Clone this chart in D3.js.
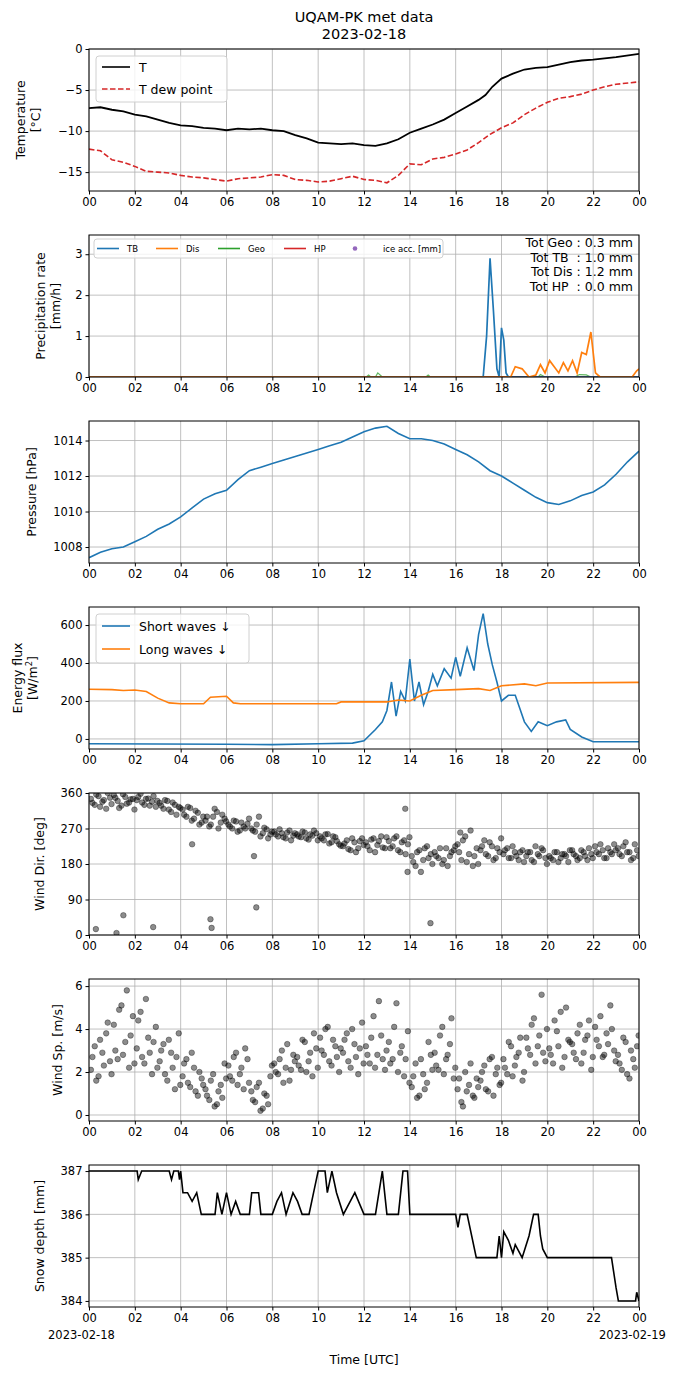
<!DOCTYPE html>
<html><head><meta charset="utf-8">
<script src="https://cdn.jsdelivr.net/npm/d3@7"></script>
<style>body{margin:0;background:#fff}svg{font-family:"DejaVu Sans",sans-serif}</style>
</head><body><svg id="c" width="690" height="1377"></svg>
<script>
// ---- data (hours UTC, 2023-02-18) ----
const hourTicks=[0,2,4,6,8,10,12,14,16,18,20,22,24];
const hourLabels=["00","02","04","06","08","10","12","14","16","18","20","22","00"];
const tempT=[[0,-7.2],[0.5,-7.1],[1,-7.4],[1.5,-7.6],[2,-8.0],[2.5,-8.2],[3,-8.6],[3.5,-9.0],[4,-9.3],[4.5,-9.4],[5,-9.6],[5.5,-9.7],[6,-9.9],[6.5,-9.7],[7,-9.8],[7.5,-9.7],[8,-9.9],[8.5,-10.0],[9,-10.5],[9.5,-10.9],[10,-11.4],[10.5,-11.5],[11,-11.6],[11.5,-11.5],[12,-11.7],[12.5,-11.8],[13,-11.5],[13.5,-11.0],[14,-10.2],[14.5,-9.7],[15,-9.2],[15.5,-8.6],[16,-7.8],[16.5,-7.0],[17,-6.2],[17.3,-5.6],[17.6,-4.6],[18,-3.6],[18.5,-3.0],[19,-2.5],[19.5,-2.3],[20,-2.2],[20.5,-1.9],[21,-1.6],[21.5,-1.4],[22,-1.3],[23,-1.0],[24,-0.6]];
const tempTd=[[0,-12.2],[0.5,-12.4],[1,-13.5],[1.5,-13.8],[2,-14.3],[2.5,-14.9],[3,-15.0],[3.5,-15.1],[4,-15.4],[4.5,-15.6],[5,-15.7],[5.5,-15.9],[6,-16.1],[6.5,-15.8],[7,-15.7],[7.5,-15.6],[8,-15.3],[8.5,-15.4],[9,-15.9],[9.5,-16.0],[10,-16.2],[10.5,-16.1],[11,-15.8],[11.5,-15.5],[12,-15.9],[12.5,-16.0],[13,-16.3],[13.5,-15.4],[14,-14.0],[14.5,-14.1],[15,-13.4],[15.5,-13.2],[16,-12.8],[16.5,-12.3],[17,-11.4],[17.5,-10.4],[18,-9.6],[18.5,-9.0],[19,-8.0],[19.5,-7.2],[20,-6.5],[20.5,-6.0],[21,-5.8],[21.5,-5.5],[22,-5.0],[22.5,-4.6],[23,-4.3],[24,-4.0]];
const precipTB=[[0,0],[17.2,0],[17.35,1.0],[17.5,2.9],[17.65,1.6],[17.8,0.2],[17.9,0],[18.0,1.2],[18.1,0.9],[18.2,0.1],[18.3,0],[24,0]];
const precipDis=[[0,0],[18.4,0],[18.6,0.25],[18.9,0.2],[19.2,0],[19.5,0.05],[19.7,0.3],[19.9,0.1],[20.1,0.4],[20.3,0.25],[20.5,0.1],[20.7,0.35],[20.9,0.15],[21.1,0.4],[21.3,0.1],[21.5,0.6],[21.7,0.55],[21.9,1.1],[22.1,0.1],[22.3,0],[23.7,0],[23.9,0.15],[24,0.2]];
const precipGeo=[[0,0],[12.1,0],[12.2,0.05],[12.3,0],[12.5,0],[12.6,0.1],[12.8,0],[14.7,0],[14.8,0.05],[14.9,0],[19.6,0],[19.7,0.06],[19.9,0],[21.2,0],[21.4,0.06],[21.7,0.05],[21.9,0],[24,0]];
const precipHP=[[0,0],[24,0]];
const precipTotals=["Tot Geo : 0.3 mm","Tot TB  : 1.0 mm","Tot Dis : 1.2 mm","Tot HP  : 0.0 mm"];
const pressure=[[0,1007.4],[0.5,1007.7],[1,1007.9],[1.5,1008.0],[2,1008.3],[2.5,1008.6],[3,1009.0],[3.5,1009.3],[4,1009.7],[4.5,1010.2],[5,1010.7],[5.5,1011.0],[6,1011.2],[6.5,1011.8],[7,1012.3],[7.5,1012.5],[8,1012.7],[8.5,1012.9],[9,1013.1],[9.5,1013.3],[10,1013.5],[10.5,1013.7],[11,1013.9],[11.5,1014.2],[12,1014.5],[12.5,1014.7],[13,1014.8],[13.5,1014.4],[14,1014.1],[14.5,1014.1],[15,1014.0],[15.5,1013.8],[16,1013.5],[16.5,1013.2],[17,1012.8],[17.5,1012.3],[18,1012.0],[18.5,1011.6],[19,1011.2],[19.5,1010.8],[20,1010.5],[20.5,1010.4],[21,1010.6],[21.5,1010.9],[22,1011.1],[22.5,1011.5],[23,1012.1],[23.5,1012.8],[24,1013.4]];
const swDown=[[0,-25],[6,-28],[8,-30],[10,-25],[11.5,-22],[12,-10],[12.5,50],[12.8,90],[13,150],[13.2,300],[13.4,120],[13.6,250],[13.8,200],[14,420],[14.2,200],[14.4,300],[14.6,180],[14.8,250],[15,340],[15.2,280],[15.5,370],[15.8,320],[16,430],[16.2,330],[16.5,480],[16.8,360],[17,550],[17.2,660],[17.4,500],[17.6,390],[17.8,300],[18,200],[18.3,230],[18.6,230],[18.8,160],[19,90],[19.3,40],[19.6,90],[19.8,80],[20,70],[20.4,90],[20.8,100],[21,50],[21.5,10],[22,-15],[24,-15]];
const lwDown=[[0,262],[1,260],[1.5,255],[2,258],[2.5,250],[3,215],[3.5,190],[4,185],[5,185],[5.3,220],[6,225],[6.3,190],[6.6,185],[10.8,185],[11,195],[13,195],[13.5,205],[14,200],[14.5,230],[15,255],[16,260],[17,265],[17.5,255],[18,280],[19,290],[19.5,280],[20,295],[24,298]];
const windDirA=[345,330,352,338,320,348,355,340,328,350,336,345,342,358,330,346,338,325,335,320,340,312,330,325,318,300,322,295,310,285,290,275,300,312,285,295,280,270,288,265,275,282,270,262,300,258,268,255,262,250,258,245,265,252,255,248,260,242,252,258,250,240,256,235,248,230,225,240,215,235,220,245,235,215,245,228,250,220,238,225,250,210,240,230,200,175,215,190,225,205,210,195,180,220,200,215,230,190,250,205,175,220,215,240,200,225,195,210,205,220,195,210,190,215,200,210,185,205,220,195,200,190,210,195,205,185,215,200,195,210,190,205,225,205,215,195,210,230,220,200,235,210,195,215];
const windDirB=[335,356,325,342,360,332,348,322,357,333,344,318,350,336,345,328,352,340,328,342,318,336,305,322,305,325,290,315,280,300,300,280,320,270,305,288,275,290,262,285,270,295,265,280,250,272,245,262,255,268,248,260,240,258,250,262,245,255,265,240,245,255,232,250,238,226,232,218,245,210,238,228,225,242,210,238,222,248,220,245,215,235,205,248,185,210,160,220,195,180,200,220,190,175,210,225,210,240,185,265,200,180,225,205,235,190,220,245,215,195,225,200,210,185,210,190,225,200,215,180,195,210,185,205,200,215,205,190,215,200,220,195,210,230,195,220,205,215,205,225,210,190,230,200];
const windDirOut=[[0.3,15],[1.2,5],[1.5,50],[2.8,20],[5.3,40],[5.35,18],[7.3,70],[14.9,30],[4.5,230],[7.2,200],[13.8,320],[13.9,160],[16.2,260]];
const windSpA=[2.1,3.2,1.8,2.9,3.8,2.5,4.2,2.6,5.1,3.4,2.2,4.6,3.1,4.8,2.4,3.6,1.9,4.1,2.5,3.3,1.6,2.9,1.2,3.8,1.8,2.6,1.3,2.2,0.9,1.7,1.2,0.7,1.9,0.5,1.4,2.4,2.3,1.6,2.9,1.9,1.2,2.6,1.1,0.6,1.5,0.3,0.9,1.8,2.4,1.9,3.0,2.2,1.6,2.8,2.7,2.1,3.4,2.5,1.8,3.1,3.6,2.8,4.1,2.3,3.2,2.0,2.9,3.8,2.2,3.3,1.9,4.3,3.2,2.4,4.6,2.8,3.7,2.1,3.4,2.6,5.2,2.9,1.8,3.9,1.3,2.4,0.9,1.9,1.5,2.8,2.9,2.1,4.1,2.6,3.3,1.7,1.2,0.6,2.0,1.4,0.9,1.7,1.6,2.3,1.1,2.7,1.9,1.4,2.6,1.9,3.2,2.3,2.9,1.6,3.6,2.8,4.5,3.2,5.6,2.5,3.1,2.4,3.9,4.8,2.7,3.5,3.3,2.6,4.2,2.9,3.7,2.1,4.1,3.2,2.7,3.8,5.1,3.0,2.8,2.1,3.4,1.7,2.6,3.2];
const windSpB=[2.7,1.6,3.5,2.3,4.3,1.9,3.0,4.9,2.8,5.8,3.7,2.4,4.4,2.7,5.4,2.9,3.4,2.2,3.0,1.9,3.5,2.2,2.7,1.4,2.4,1.5,2.9,1.1,2.0,1.4,0.9,1.6,0.4,1.1,0.8,1.7,1.8,2.7,1.4,2.2,3.1,1.5,0.7,1.3,0.2,1.0,0.5,2.3,2.0,2.6,1.5,3.3,2.1,2.5,2.3,3.5,2.0,2.9,3.8,2.2,3.0,4.0,2.5,3.5,2.7,3.1,3.5,2.5,4.0,2.7,3.1,2.4,2.8,3.6,2.2,5.3,2.6,3.0,2.4,4.1,2.0,3.2,2.6,1.5,1.8,0.8,2.6,1.2,3.4,2.1,2.3,3.7,1.9,2.8,4.5,2.2,1.7,0.4,1.1,2.4,0.8,1.3,2.0,1.2,2.6,0.9,2.2,1.5,2.2,3.4,1.8,2.7,3.6,2.0,3.1,4.2,2.4,3.7,2.9,4.0,2.8,4.4,3.2,2.2,5.0,3.4,2.9,3.8,2.4,3.5,4.4,2.7,3.5,4.6,2.8,3.3,4.0,2.5,2.4,3.6,1.9,3.0,2.2,3.7];
const snowDepth=[[0,387],[2.1,387],[2.15,386.8],[2.3,387],[3.5,387],[3.6,386.8],[3.7,387],[3.9,387],[3.95,386.8],[4.0,387],[4.1,386.5],[4.3,386.5],[4.5,386.3],[4.7,386.5],[4.9,386],[5.5,386],[5.6,386.5],[5.8,386],[6.0,386.5],[6.2,386],[6.4,386.3],[6.6,386],[7.0,386],[7.1,386.5],[7.4,386.5],[7.5,386],[8.0,386],[8.2,386.3],[8.4,386.5],[8.6,386],[8.9,386.5],[9.1,386.3],[9.3,386],[9.6,386],[9.8,386.5],[10.0,387],[10.3,387],[10.4,386.5],[10.6,387],[10.8,386.5],[11.1,386],[11.6,386.5],[12.0,386],[12.5,386],[12.8,387],[13.0,386],[13.5,386],[13.7,387],[13.9,387],[14.0,386],[16.0,386],[16.1,385.7],[16.2,386],[16.5,386],[16.9,385],[17.8,385],[17.9,385.5],[18.0,385],[18.1,385.6],[18.3,385.4],[18.5,385.1],[18.6,385.3],[18.9,385],[19.2,385.5],[19.4,386],[19.6,386],[19.7,385.5],[19.8,385.2],[20.0,385],[22.8,385],[23.0,384.3],[23.1,384],[23.85,384],[23.9,384.2],[24,384]];

// ---- layout ----
const svg=d3.select("#c");
const L=89,R=639,H=142;
const x=d3.scaleLinear().domain([0,24]).range([L,R]);
const tops=[49,235,421,607,793,979,1165];
svg.append("text").attr("x",364).attr("y",22).attr("text-anchor","middle").attr("font-size",14.5).text("UQAM-PK met data");
svg.append("text").attr("x",364).attr("y",39).attr("text-anchor","middle").attr("font-size",14.5).text("2023-02-18");
const fmt=d=>String(d).replace("-","\u2212");

function panel(i,dom,ticks,labels,labX){
  const t=tops[i];
  const y=d3.scaleLinear().domain(dom).range([t+H,t]);
  const g=svg.append("g");
  g.selectAll(".gx").data(hourTicks).join("line").attr("x1",d=>x(d)).attr("x2",d=>x(d)).attr("y1",t).attr("y2",t+H).attr("stroke","#b0b0b0").attr("stroke-width",0.8);
  g.selectAll(".gy").data(ticks).join("line").attr("x1",L).attr("x2",R).attr("y1",d=>y(d)).attr("y2",d=>y(d)).attr("stroke","#b0b0b0").attr("stroke-width",0.8);
  const ax=g.append("g").attr("transform",`translate(0,${t+H})`).call(d3.axisBottom(x).tickValues(hourTicks).tickFormat((d,j)=>hourLabels[j]).tickSizeOuter(0).tickSize(3.5).tickPadding(3));
  const ay=g.append("g").attr("transform",`translate(${L},0)`).call(d3.axisLeft(y).tickValues(ticks).tickFormat(fmt).tickSizeOuter(0).tickSize(3.5).tickPadding(3));
  [ax,ay].forEach(a=>{a.select(".domain").remove();a.selectAll("text").attr("font-size",11.5).attr("font-family","DejaVu Sans").attr("fill","#000");a.selectAll("line").attr("stroke","#000");});
  const lab=g.append("text").attr("transform",`translate(${labX},${t+H/2}) rotate(-90)`).attr("text-anchor","middle").attr("font-size",12.5);
  labels.forEach((s,j)=>{const ts=lab.append("tspan").attr("x",0).attr("dy",j?15:0);
    if(s.includes("^2")){ts.text(s.split("^2")[0]);lab.append("tspan").attr("font-size",8.5).attr("dy",-5).text("2");lab.append("tspan").attr("dy",5).text(s.split("^2")[1]);} else ts.text(s);});
  const clipId="clip"+i;
  svg.append("clipPath").attr("id",clipId).append("rect").attr("x",L).attr("y",t).attr("width",R-L).attr("height",H);
  const plot=svg.append("g").attr("clip-path",`url(#${clipId})`);
  const frame=()=>svg.append("rect").attr("x",L).attr("y",t).attr("width",R-L).attr("height",H).attr("fill","none").attr("stroke","#000").attr("stroke-width",1);
  return {y,plot,frame,t};
}
const line=(y)=>d3.line().x(d=>x(d[0])).y(d=>y(d[1]));
function legend(px,py,w,h,items,fs,lw){
  const g=svg.append("g");
  g.append("rect").attr("x",px).attr("y",py).attr("width",w).attr("height",h).attr("rx",3).attr("fill","#fff").attr("fill-opacity",0.8).attr("stroke","#d0d0d0");
  items.forEach(it=>{
    if(it.dot) g.append("circle").attr("cx",it.x+it.len/2).attr("cy",it.y).attr("r",2.3).attr("fill",it.c);
    else g.append("line").attr("x1",it.x).attr("x2",it.x+it.len).attr("y1",it.y).attr("y2",it.y).attr("stroke",it.c).attr("stroke-width",lw).attr("stroke-dasharray",it.dash||null);
    g.append("text").attr("x",it.x+it.len+it.gap).attr("y",it.y+fs*0.36).attr("font-size",fs).text(it.t);
  });
}
const dotStyle=s=>s.attr("r",2.8).attr("fill","#000").attr("fill-opacity",0.45).attr("stroke","#000").attr("stroke-opacity",0.55).attr("stroke-width",0.6);

// 1 temperature
let p=panel(0,[-17.3,0],[0,-5,-10,-15],["Temperature","[°C]"],25);
p.plot.append("path").attr("d",line(p.y)(tempTd)).attr("fill","none").attr("stroke","#d62728").attr("stroke-width",1.6).attr("stroke-dasharray","5.5,2.5");
p.plot.append("path").attr("d",line(p.y)(tempT)).attr("fill","none").attr("stroke","#000").attr("stroke-width",1.8);
p.frame();
legend(96,56,131,46,[{x:102,y:67,len:28,gap:9,c:"#000",t:"T"},{x:102,y:89,len:28,gap:9,c:"#d62728",dash:"5.5,2.5",t:"T dew point"}],12.5,1.6);

// 2 precipitation
p=panel(1,[0,3.47],[0,1,2,3],["Precipitation rate","[mm/h]"],45);
[[precipGeo,"#2ca02c"],[precipHP,"#d62728"],[precipTB,"#1f77b4"],[precipDis,"#ff7f0e"]].forEach(([d,c])=>p.plot.append("path").attr("d",line(p.y)(d)).attr("fill","none").attr("stroke",c).attr("stroke-width",c=="#2ca02c"?1.2:1.7).attr("stroke-opacity",c=="#2ca02c"?0.75:1));
p.frame();
legend(94,239,349,19,[{x:97,y:248.5,len:22,gap:8,c:"#1f77b4",t:"TB"},{x:156,y:248.5,len:22,gap:8,c:"#ff7f0e",t:"Dis"},{x:218,y:248.5,len:22,gap:8,c:"#2ca02c",t:"Geo"},{x:284,y:248.5,len:22,gap:8,c:"#d62728",t:"HP"},{x:344,y:248.5,len:22,gap:17,c:"#9467bd",dot:true,t:"ice acc. [mm]"}],8.5,1.6);
precipTotals.forEach((s,j)=>svg.append("text").attr("x",633).attr("y",247+j*14.5).attr("text-anchor","end").attr("font-size",12.5).attr("xml:space","preserve").text(s));

// 3 pressure
p=panel(2,[1007.1,1015.1],[1008,1010,1012,1014],["Pressure [hPa]"],36);
p.plot.append("path").attr("d",line(p.y)(pressure)).attr("fill","none").attr("stroke","#1f77b4").attr("stroke-width",1.6);
p.frame();

// 4 energy
p=panel(3,[-53,695],[0,200,400,600],["Energy flux","[W/m^2]"],22);
p.plot.append("path").attr("d",line(p.y)(swDown)).attr("fill","none").attr("stroke","#1f77b4").attr("stroke-width",1.6);
p.plot.append("path").attr("d",line(p.y)(lwDown)).attr("fill","none").attr("stroke","#ff7f0e").attr("stroke-width",1.6);
p.frame();
legend(96,614,153,49,[{x:102,y:626,len:28,gap:9,c:"#1f77b4",t:"Short waves ↓"},{x:102,y:649,len:28,gap:9,c:"#ff7f0e",t:"Long waves ↓"}],12.5,1.6);

// 5 wind dir
p=panel(4,[0,360],[0,90,180,270,360],["Wind Dir. [deg]"],44);
const ptsDir=windDirA.map((v,j)=>[j/6+1/12,v]).concat(windDirB.map((v,j)=>[j/6+0.15,v])).concat(windDirOut);
dotStyle(p.plot.selectAll("circle").data(ptsDir).join("circle").attr("cx",d=>x(d[0])).attr("cy",d=>p.y(d[1])));
p.frame();

// 6 wind speed
p=panel(5,[-0.28,6.33],[0,2,4,6],["Wind Sp. [m/s]"],62);
const ptsSp=windSpA.map((v,j)=>[j/6+1/12,v]).concat(windSpB.map((v,j)=>[j/6+0.15,v]));
dotStyle(p.plot.selectAll("circle").data(ptsSp).join("circle").attr("cx",d=>x(d[0])).attr("cy",d=>p.y(d[1])));
p.frame();

// 7 snow
p=panel(6,[383.86,387.14],[384,385,386,387],["Snow depth [mm]"],44);
p.plot.append("path").attr("d",line(p.y)(snowDepth)).attr("fill","none").attr("stroke","#000").attr("stroke-width",1.6);
p.frame();
svg.append("text").attr("x",48).attr("y",1339).attr("font-size",11.5).text("2023-02-18");
svg.append("text").attr("x",599).attr("y",1339).attr("font-size",11.5).text("2023-02-19");
svg.append("text").attr("x",364).attr("y",1364).attr("text-anchor","middle").attr("font-size",12.5).text("Time [UTC]");
</script></body></html>
